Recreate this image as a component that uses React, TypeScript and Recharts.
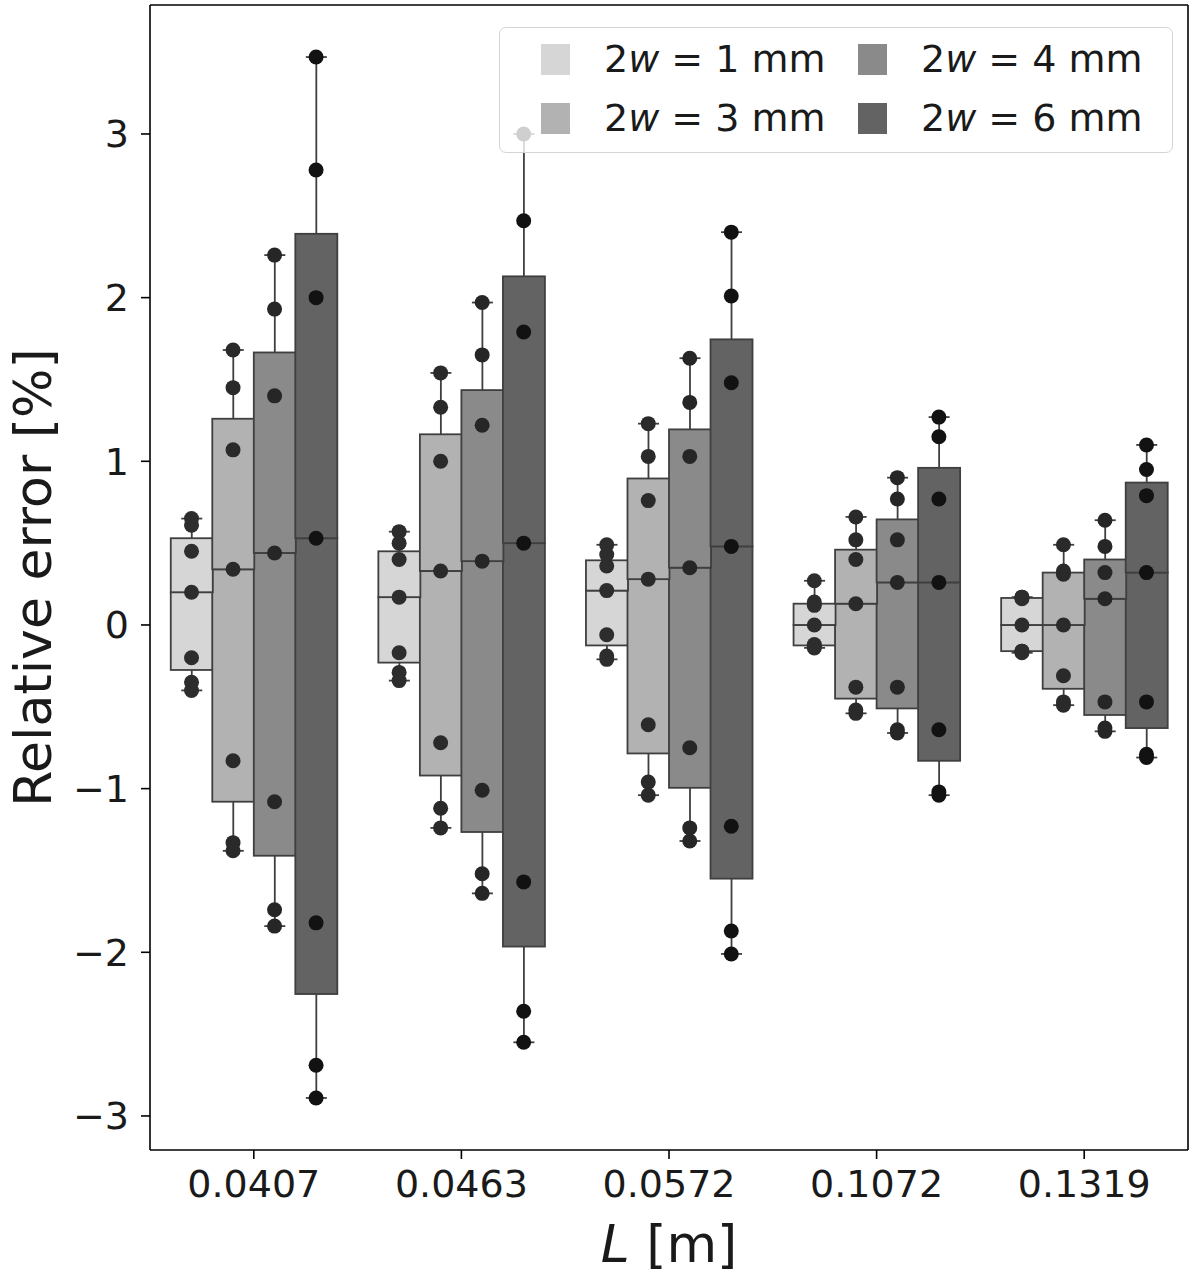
import React from "react";
import {
  ComposedChart,
  Bar,
  Scatter,
  XAxis,
  YAxis,
  ReferenceLine,
  Legend,
} from "recharts";

// x categories: flow length L [m]
const lengths = ["0.0407", "0.0463", "0.0572", "0.1072", "0.1319"];
// hue: slot width 2w [mm]
const widths = [1, 3, 4, 6];
const yTicks = [-3, -2, -1, 0, 1, 2, 3];

// relative error [%], 7 runs per (L, 2w), one row per L
const err1mm = [
  [0.65, 0.61, 0.45, 0.2, -0.2, -0.35, -0.4],
  [0.57, 0.5, 0.4, 0.17, -0.17, -0.29, -0.34],
  [0.49, 0.43, 0.36, 0.21, -0.06, -0.19, -0.21],
  [0.27, 0.14, 0.12, 0.0, -0.12, -0.13, -0.14],
  [0.17, 0.17, 0.16, 0.0, -0.16, -0.16, -0.17],
];
const err3mm = [
  [1.68, 1.45, 1.07, 0.34, -0.83, -1.33, -1.38],
  [1.54, 1.33, 1.0, 0.33, -0.72, -1.12, -1.24],
  [1.23, 1.03, 0.76, 0.28, -0.61, -0.96, -1.04],
  [0.66, 0.52, 0.4, 0.13, -0.38, -0.52, -0.54],
  [0.49, 0.33, 0.31, 0.0, -0.31, -0.47, -0.49],
];
const err4mm = [
  [2.26, 1.93, 1.4, 0.44, -1.08, -1.74, -1.84],
  [1.97, 1.65, 1.22, 0.39, -1.01, -1.52, -1.64],
  [1.63, 1.36, 1.03, 0.35, -0.75, -1.24, -1.32],
  [0.9, 0.77, 0.52, 0.26, -0.38, -0.64, -0.66],
  [0.64, 0.48, 0.32, 0.16, -0.47, -0.63, -0.65],
];
const err6mm = [
  [3.47, 2.78, 2.0, 0.53, -1.82, -2.69, -2.89],
  [3.0, 2.47, 1.79, 0.5, -1.57, -2.36, -2.55],
  [2.4, 2.01, 1.48, 0.48, -1.23, -1.87, -2.01],
  [1.27, 1.15, 0.77, 0.26, -0.64, -1.02, -1.04],
  [1.1, 0.95, 0.79, 0.32, -0.47, -0.79, -0.81],
];
const errors = [err1mm, err3mm, err4mm, err6mm];

const boxFills = ["#d6d6d6", "#b2b2b2", "#8a8a8a", "#636363"];
const dotFills = ["#2d2d2d", "#2a2a2a", "#262626", "#121212"];
const EDGE = "#3f3f3f";
const FONT = "DejaVu Sans";

function quantile(values: number[], p: number) {
  const s = [...values].sort((a, b) => a - b);
  const pos = (s.length - 1) * p;
  const lo = Math.floor(pos);
  const hi = Math.ceil(pos);
  return s[lo] + (s[hi] - s[lo]) * (pos - lo);
}

// dodge like seaborn: 4 boxes of width 0.2 inside a 0.8 wide group
const slot = (g: number, s: number) => g - 0.3 + 0.2 * s;

const boxes = lengths.flatMap((_, g) =>
  widths.map((_, s) => {
    const v = errors[s][g];
    return {
      x: slot(g, s),
      s,
      min: Math.min(...v),
      q1: quantile(v, 0.25),
      med: quantile(v, 0.5),
      q3: quantile(v, 0.75),
      max: Math.max(...v),
    };
  })
);

const points = widths.map((_, s) =>
  lengths.flatMap((_, g) => errors[s][g].map((y) => ({ x: slot(g, s), y })))
);

const Whisker = (p: any) => {
  const cx = p.x + p.width / 2;
  const cap = p.width / 4;
  const top = Math.min(p.y, p.y + p.height);
  const bot = Math.max(p.y, p.y + p.height);
  return (
    <g stroke={EDGE} strokeWidth={1.8}>
      <line x1={cx} x2={cx} y1={top} y2={bot} />
      <line x1={cx - cap} x2={cx + cap} y1={top} y2={top} />
      <line x1={cx - cap} x2={cx + cap} y1={bot} y2={bot} />
    </g>
  );
};

const BoxPart = (p: any) => (
  <rect
    x={p.x}
    y={Math.min(p.y, p.y + p.height)}
    width={p.width}
    height={Math.abs(p.height)}
    fill={boxFills[p.payload.s]}
    stroke={EDGE}
    strokeWidth={1.8}
  />
);

const LegendBox = () => (
  <div
    style={{
      boxSizing: "border-box",
      width: 674,
      height: 126,
      border: "1.5px solid #d4d4d4",
      borderRadius: 7,
      background: "rgba(255,255,255,0.8)",
      display: "grid",
      gridAutoFlow: "column",
      gridTemplateRows: "38px 38px",
      gridTemplateColumns: "317px 317px",
      rowGap: 21,
      paddingTop: 12,
      paddingLeft: 41,
      fontFamily: FONT,
      fontSize: 38,
      color: "#1a1a1a",
    }}
  >
    {widths.map((w, s) => (
      <div key={w} style={{ display: "flex", alignItems: "center", whiteSpace: "nowrap" }}>
        <span
          style={{ width: 29, height: 31, background: boxFills[s], marginRight: 34 }}
        />
        <span>
          2<i>w</i> = {w} mm
        </span>
      </div>
    ))}
  </div>
);

const axisTick = { fontFamily: FONT, fontSize: 38, fill: "#1a1a1a" };

export default function App() {
  return (
    <div style={{ width: 1200, height: 1276, background: "#fff" }}>
      <style>{"body{margin:0}"}</style>
      <ComposedChart
        width={1200}
        height={1276}
        data={boxes}
        margin={{ top: 5, right: 12, bottom: 0, left: 0 }}
        barGap={0}
        barCategoryGap={0}
      >
        <XAxis
          xAxisId="main"
          dataKey="x"
          type="number"
          domain={[-0.5, 4.5]}
          ticks={[0, 1, 2, 3, 4]}
          interval={0}
          tickFormatter={(i: number) => lengths[i]}
          height={126}
          tick={axisTick}
          tickSize={9}
          tickMargin={11}
          axisLine={{ stroke: "#000", strokeWidth: 1.6 }}
          tickLine={{ stroke: "#000", strokeWidth: 1.6 }}
          label={{
            content: ({ viewBox }: any) => (
              <text
                x={viewBox.x + viewBox.width / 2}
                y={viewBox.y + 94}
                textAnchor="middle"
                dominantBaseline="central"
                fontFamily={FONT}
                fontSize={52}
                fill="#1a1a1a"
              >
                <tspan fontStyle="italic">L</tspan> [m]
              </text>
            ),
          }}
        />
        <XAxis xAxisId="whisker" dataKey="x" type="number" domain={[-0.5, 4.5]} height={0} hide />
        <XAxis xAxisId="lower" dataKey="x" type="number" domain={[-0.5, 4.5]} height={0} hide />
        <XAxis xAxisId="upper" dataKey="x" type="number" domain={[-0.5, 4.5]} height={0} hide />
        <YAxis
          type="number"
          domain={[-3.208, 3.788]}
          ticks={yTicks}
          interval={0}
          width={150}
          tick={axisTick}
          tickSize={9}
          tickMargin={12}
          tickFormatter={(v: number) => (v < 0 ? `\u2212${-v}` : `${v}`)}
          axisLine={{ stroke: "#000", strokeWidth: 1.6 }}
          tickLine={{ stroke: "#000", strokeWidth: 1.6 }}
          label={{
            content: ({ viewBox }: any) => {
              const x = viewBox.x + 33;
              const y = viewBox.y + viewBox.height / 2;
              return (
                <text
                  x={x}
                  y={y}
                  transform={`rotate(-90 ${x} ${y})`}
                  textAnchor="middle"
                  dominantBaseline="central"
                  fontFamily={FONT}
                  fontSize={52}
                  fill="#1a1a1a"
                >
                  Relative error [%]
                </text>
              );
            },
          }}
        />
        <ReferenceLine xAxisId="main" y={3.788} stroke="#000" strokeWidth={1.6} />
        <ReferenceLine xAxisId="main" x={4.5} stroke="#000" strokeWidth={1.6} />

        <Bar
          xAxisId="whisker"
          dataKey={(d: any) => [d.min, d.max]}
          shape={Whisker}
          isAnimationActive={false}
        />
        <Bar
          xAxisId="lower"
          dataKey={(d: any) => [d.q1, d.med]}
          shape={BoxPart}
          isAnimationActive={false}
        />
        <Bar
          xAxisId="upper"
          dataKey={(d: any) => [d.med, d.q3]}
          shape={BoxPart}
          isAnimationActive={false}
        />
        {points.map((pts, s) => (
          <Scatter
            key={widths[s]}
            xAxisId="main"
            data={pts}
            dataKey="y"
            isAnimationActive={false}
            shape={(p: any) => (
              <circle cx={p.cx} cy={p.cy} r={7.5} fill={dotFills[s]} />
            )}
          />
        ))}
        <Legend
          layout="horizontal"
          verticalAlign="middle"
          align="center"
          wrapperStyle={{ top: 27, left: 499, width: 674, height: 126 }}
          content={() => <LegendBox />}
        />
      </ComposedChart>
    </div>
  );
}
